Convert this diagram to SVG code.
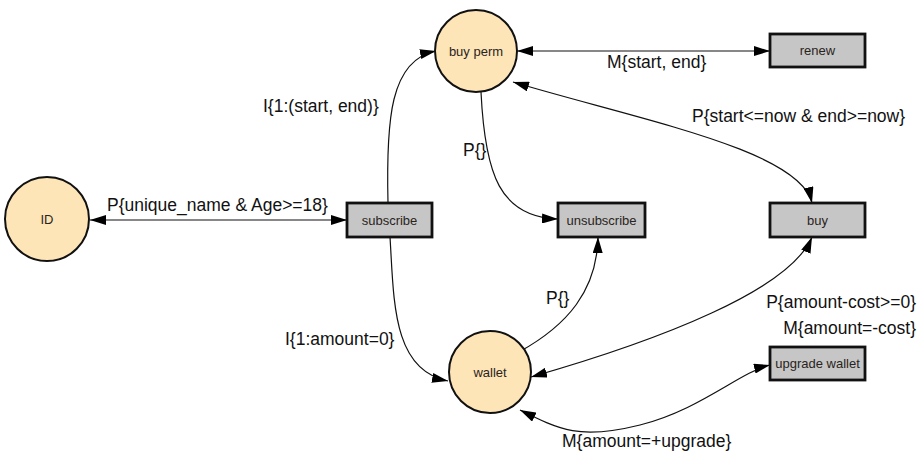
<svg xmlns="http://www.w3.org/2000/svg" width="923" height="456" viewBox="0 0 923 456">
<defs>
<marker id="ah" viewBox="0 0 16 10" refX="16" refY="5" markerWidth="16" markerHeight="10" markerUnits="userSpaceOnUse" orient="auto-start-reverse">
<path d="M0,0 L16,5 L0,10 Z" fill="#000"/>
</marker>
<style>
.place{fill:#fde5b8;stroke:#111;stroke-width:2}
.trans{fill:#c6c6c6;stroke:#111;stroke-width:2.8}
.nl{font-family:"Liberation Sans",Arial,sans-serif;font-size:13px;fill:#2a2420;text-anchor:middle;dominant-baseline:central}
.el{font-family:"Liberation Sans",Arial,sans-serif;font-size:17.5px;fill:#111}
.r{text-anchor:end}
.c{fill:none;stroke:#111;stroke-width:1.2}
</style>
</defs>
<rect width="923" height="456" fill="#fff"/>
<g id="connectors">
<path class="c" d="M90,220 L347,220" marker-start="url(#ah)" marker-end="url(#ah)"/>
<path class="c" d="M388,203 C386,120 390,60 436,51" marker-end="url(#ah)"/>
<path class="c" d="M390,237 C394,300 392,370 448,381" marker-end="url(#ah)"/>
<path class="c" d="M517,51 L770,51" marker-start="url(#ah)" marker-end="url(#ah)"/>
<path class="c" d="M481,92 C485,175 500,217 558,219" marker-end="url(#ah)"/>
<path class="c" d="M519,352 C568,325 597,290 598,237" marker-end="url(#ah)"/>
<path class="c" d="M513,82 C640,120 800,150 812,203" marker-start="url(#ah)" marker-end="url(#ah)"/>
<path class="c" d="M531,377 C660,340 790,290 812,237" marker-start="url(#ah)" marker-end="url(#ah)"/>
<path class="c" d="M520,410 C560,430 580,440 640,425 C700,410 740,372 770,365" marker-start="url(#ah)" marker-end="url(#ah)"/>
</g>
<g id="edge-labels">
<text class="el" x="107" y="211">P{unique_name &amp; Age&gt;=18}</text>
<text class="el" x="263" y="112">I{1:(start, end)}</text>
<text class="el" x="285" y="345">I{1:amount=0}</text>
<text class="el" x="607" y="68">M{start, end}</text>
<text class="el" x="463" y="156">P{}</text>
<text class="el" x="546" y="304">P{}</text>
<text class="el" x="692" y="122">P{start&lt;=now &amp; end&gt;=now}</text>
<text class="el r" x="916" y="308">P{amount-cost&gt;=0}</text>
<text class="el r" x="916" y="334">M{amount=-cost}</text>
<text class="el" x="562" y="447">M{amount=+upgrade}</text>
</g>
<g id="ID"><circle class="place" cx="47" cy="219" r="42"/><text class="nl" x="47" y="219">ID</text></g>
<g id="subscribe"><rect class="trans" x="347" y="203" width="85" height="34"/><text class="nl" x="389.5" y="220">subscribe</text></g>
<g id="buy-perm"><circle class="place" cx="476" cy="51" r="41"/><text class="nl" x="476" y="51">buy perm</text></g>
<g id="renew"><rect class="trans" x="770" y="34" width="95" height="33"/><text class="nl" x="817.5" y="50.5">renew</text></g>
<g id="unsubscribe"><rect class="trans" x="558" y="203" width="87" height="34"/><text class="nl" x="601.5" y="220">unsubscribe</text></g>
<g id="buy"><rect class="trans" x="770" y="203" width="95" height="34"/><text class="nl" x="817.5" y="220">buy</text></g>
<g id="wallet"><circle class="place" cx="490" cy="372" r="41"/><text class="nl" x="490" y="372">wallet</text></g>
<g id="upgrade-wallet"><rect class="trans" x="770" y="347" width="95" height="33"/><text class="nl" x="817.5" y="363.5">upgrade wallet</text></g>
</svg>
